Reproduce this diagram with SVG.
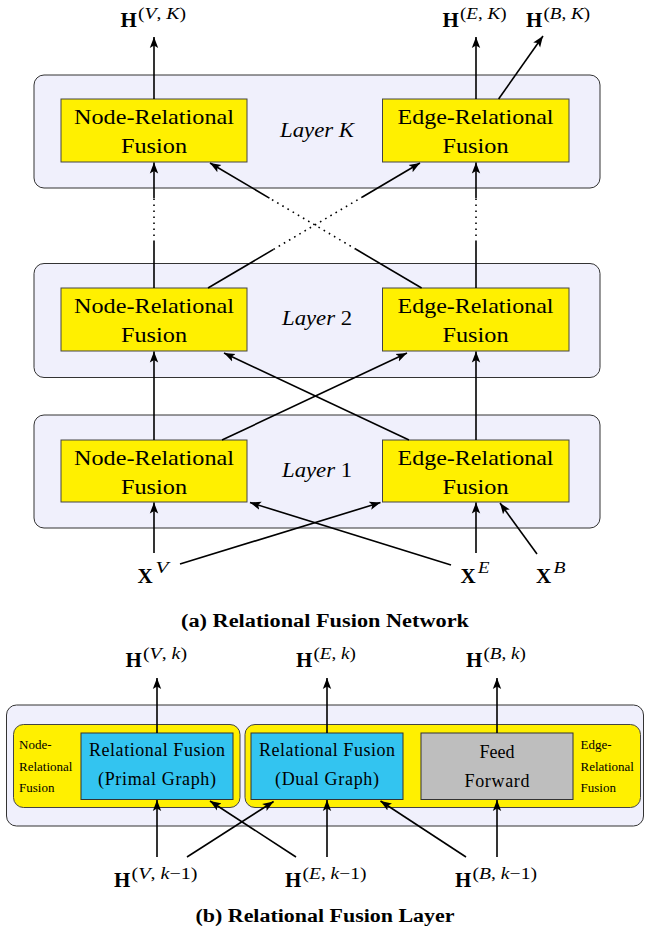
<svg xmlns="http://www.w3.org/2000/svg" width="645" height="935" viewBox="0 0 645 935">
<style>
.layer{fill:#F0F0FC;stroke:#333;stroke-width:1}
.yb{fill:#FFF000;stroke:#444;stroke-width:1}
.cb{fill:#33C4F0;stroke:#333;stroke-width:1}
.gb{fill:#BEBEBE;stroke:#333;stroke-width:1}
.t{font-family:"Liberation Serif",serif;fill:#000}
.n{font-size:21px;text-anchor:middle}
.lay{font-size:20px;text-anchor:middle;font-style:italic}
.bx{font-size:18px;text-anchor:middle}
.sm{font-size:13px}
.cap{font-size:18px;font-weight:bold;text-anchor:middle}
.H{font-size:21px;font-weight:bold}
.sup{font-size:16px}
.xs{font-size:17px}
.i{font-style:italic}
.e{stroke:#000;stroke-width:1.6;fill:none}
.d{stroke-dasharray:1.6 4.4}
.a{marker-end:url(#ah)}
</style>
<defs>
<marker id="ah" markerUnits="userSpaceOnUse" markerWidth="12" markerHeight="10" viewBox="0 0 12 10" refX="11" refY="5" orient="auto">
<path d="M0,0.8 L11,5 L0,9.2 L2.5,5 z" fill="#000"/>
</marker>
</defs>

<!-- Part (a) -->
<g id="layerK">
<rect class="layer" x="34" y="75" width="566" height="113" rx="10"/>
<text class="t lay" x="317" y="137" textLength="74" lengthAdjust="spacingAndGlyphs">Layer K</text>
</g>
<g id="layer2">
<rect class="layer" x="34" y="263.5" width="566" height="114" rx="10"/>
<text class="t lay" x="317" y="325" textLength="70" lengthAdjust="spacingAndGlyphs">Layer <tspan font-style="normal">2</tspan></text>
</g>
<g id="layer1">
<rect class="layer" x="34" y="415" width="566" height="113" rx="10"/>
<text class="t lay" x="317" y="476.5" textLength="70" lengthAdjust="spacingAndGlyphs">Layer <tspan font-style="normal">1</tspan></text>
</g>

<g id="nodeK">
<rect class="yb" x="61" y="99" width="186" height="63"/>
<text class="t n" x="154" y="124" textLength="160" lengthAdjust="spacingAndGlyphs">Node-Relational</text>
<text class="t n" x="154" y="153" textLength="66" lengthAdjust="spacingAndGlyphs">Fusion</text>
</g>
<g id="edgeK">
<rect class="yb" x="382.5" y="99" width="186.5" height="63"/>
<text class="t n" x="475.5" y="124" textLength="156" lengthAdjust="spacingAndGlyphs">Edge-Relational</text>
<text class="t n" x="475.5" y="153" textLength="66" lengthAdjust="spacingAndGlyphs">Fusion</text>
</g>
<g id="node2">
<rect class="yb" x="61" y="288" width="186" height="63"/>
<text class="t n" x="154" y="313" textLength="160" lengthAdjust="spacingAndGlyphs">Node-Relational</text>
<text class="t n" x="154" y="342" textLength="66" lengthAdjust="spacingAndGlyphs">Fusion</text>
</g>
<g id="edge2">
<rect class="yb" x="382.5" y="288" width="186.5" height="63"/>
<text class="t n" x="475.5" y="313" textLength="156" lengthAdjust="spacingAndGlyphs">Edge-Relational</text>
<text class="t n" x="475.5" y="342" textLength="66" lengthAdjust="spacingAndGlyphs">Fusion</text>
</g>
<g id="node1">
<rect class="yb" x="61" y="440" width="186" height="62"/>
<text class="t n" x="154" y="465" textLength="160" lengthAdjust="spacingAndGlyphs">Node-Relational</text>
<text class="t n" x="154" y="494" textLength="66" lengthAdjust="spacingAndGlyphs">Fusion</text>
</g>
<g id="edge1">
<rect class="yb" x="382.5" y="440" width="186.5" height="62"/>
<text class="t n" x="475.5" y="465" textLength="156" lengthAdjust="spacingAndGlyphs">Edge-Relational</text>
<text class="t n" x="475.5" y="494" textLength="66" lengthAdjust="spacingAndGlyphs">Fusion</text>
</g>

<g id="outHVK">
<text class="t H" x="120.5" y="27">H</text>
<text class="t sup" x="138" y="19" textLength="48" lengthAdjust="spacingAndGlyphs">(<tspan class="i">V</tspan>, <tspan class="i">K</tspan>)</text>
</g>
<g id="outHEK">
<text class="t H" x="442.5" y="27">H</text>
<text class="t sup" x="460" y="19" textLength="46.5" lengthAdjust="spacingAndGlyphs">(<tspan class="i">E</tspan>, <tspan class="i">K</tspan>)</text>
</g>
<g id="outHBK">
<text class="t H" x="526" y="27">H</text>
<text class="t sup" x="543.5" y="19" textLength="46.5" lengthAdjust="spacingAndGlyphs">(<tspan class="i">B</tspan>, <tspan class="i">K</tspan>)</text>
</g>
<g id="inXV">
<text class="t H" x="137.5" y="583">X</text>
<text class="t xs i" x="155.5" y="573" textLength="13" lengthAdjust="spacingAndGlyphs">V</text>
</g>
<g id="inXE">
<text class="t H" x="460.5" y="583">X</text>
<text class="t xs i" x="478" y="573" textLength="11.5" lengthAdjust="spacingAndGlyphs">E</text>
</g>
<g id="inXB">
<text class="t H" x="536" y="583">X</text>
<text class="t xs i" x="553.5" y="573" textLength="12" lengthAdjust="spacingAndGlyphs">B</text>
</g>

<text class="t cap" x="325" y="627" textLength="288" lengthAdjust="spacingAndGlyphs">(a) Relational Fusion Network</text>

<!-- Part (b) -->
<g id="layerk">
<rect class="layer" x="6.5" y="705" width="637" height="121" rx="10"/>
</g>
<g id="nodeRF">
<rect class="yb" x="13.5" y="724.5" width="226.5" height="83" rx="10"/>
<text class="t sm" x="19" y="749">Node-</text>
<text class="t sm" x="19" y="771">Relational</text>
<text class="t sm" x="19" y="791.5">Fusion</text>
</g>
<g id="edgeRF">
<rect class="yb" x="245" y="724.5" width="395.5" height="83" rx="10"/>
<text class="t sm" x="580.5" y="749">Edge-</text>
<text class="t sm" x="580.5" y="771">Relational</text>
<text class="t sm" x="580.5" y="791.5">Fusion</text>
</g>
<g id="primal">
<rect class="cb" x="81" y="733" width="152" height="66.5"/>
<text class="t bx" x="157" y="756" textLength="136" lengthAdjust="spacing">Relational Fusion</text>
<text class="t bx" x="157" y="785" textLength="118" lengthAdjust="spacing">(Primal Graph)</text>
</g>
<g id="dual">
<rect class="cb" x="251" y="733" width="152" height="66.5"/>
<text class="t bx" x="327" y="756" textLength="136" lengthAdjust="spacing">Relational Fusion</text>
<text class="t bx" x="327" y="785" textLength="104" lengthAdjust="spacing">(Dual Graph)</text>
</g>
<g id="ffn">
<rect class="gb" x="421" y="733" width="152" height="66.5"/>
<text class="t bx" x="497" y="757.5" fill="#222">Feed</text>
<text class="t bx" x="497" y="787" textLength="65" lengthAdjust="spacing" fill="#222">Forward</text>
</g>

<g id="outHVk">
<text class="t H" x="125.5" y="666.5">H</text>
<text class="t sup" x="143" y="658.5" textLength="44" lengthAdjust="spacingAndGlyphs">(<tspan class="i">V</tspan>, <tspan class="i">k</tspan>)</text>
</g>
<g id="outHEk">
<text class="t H" x="296" y="666.5">H</text>
<text class="t sup" x="313.5" y="658.5" textLength="42.5" lengthAdjust="spacingAndGlyphs">(<tspan class="i">E</tspan>, <tspan class="i">k</tspan>)</text>
</g>
<g id="outHBk">
<text class="t H" x="466" y="666.5">H</text>
<text class="t sup" x="483.5" y="658.5" textLength="42.5" lengthAdjust="spacingAndGlyphs">(<tspan class="i">B</tspan>, <tspan class="i">k</tspan>)</text>
</g>
<g id="inHVk1">
<text class="t H" x="114" y="886.5">H</text>
<text class="t sup" x="131.5" y="878.5" textLength="66" lengthAdjust="spacingAndGlyphs">(<tspan class="i">V</tspan>, <tspan class="i">k</tspan>−1)</text>
</g>
<g id="inHEk1">
<text class="t H" x="285" y="886.5">H</text>
<text class="t sup" x="302.5" y="878.5" textLength="64" lengthAdjust="spacingAndGlyphs">(<tspan class="i">E</tspan>, <tspan class="i">k</tspan>−1)</text>
</g>
<g id="inHBk1">
<text class="t H" x="455" y="886.5">H</text>
<text class="t sup" x="472.5" y="878.5" textLength="64.5" lengthAdjust="spacingAndGlyphs">(<tspan class="i">B</tspan>, <tspan class="i">k</tspan>−1)</text>
</g>

<text class="t cap" x="325" y="921.5" textLength="259" lengthAdjust="spacingAndGlyphs">(b) Relational Fusion Layer</text>

<g id="connectors">
<!-- part a outputs -->
<line class="e a" x1="154" y1="99" x2="154" y2="37"/>
<line class="e a" x1="476" y1="99" x2="476" y2="37"/>
<line class="e a" x1="498.6" y1="99" x2="543" y2="36"/>
<!-- layer 2 -> layer K -->
<line class="e" x1="154" y1="288" x2="154" y2="242"/>
<line class="e d" x1="154" y1="242" x2="154" y2="198"/>
<line class="e a" x1="154" y1="198" x2="154" y2="162.5"/>
<line class="e" x1="476" y1="288" x2="476" y2="242"/>
<line class="e d" x1="476" y1="242" x2="476" y2="198"/>
<line class="e a" x1="476" y1="198" x2="476" y2="162.5"/>
<line class="e" x1="208" y1="288" x2="273.5" y2="249.4"/>
<line class="e d" x1="273.5" y1="249.4" x2="362" y2="197.2"/>
<line class="e a" x1="362" y1="197.2" x2="420" y2="163"/>
<line class="e" x1="421.6" y1="288" x2="356" y2="249.3"/>
<line class="e d" x1="356" y1="249.3" x2="269.4" y2="198.1"/>
<line class="e a" x1="269.4" y1="198.1" x2="210" y2="163"/>
<!-- layer 1 -> layer 2 -->
<line class="e a" x1="154" y1="440" x2="154" y2="351.5"/>
<line class="e a" x1="476" y1="440" x2="476" y2="351.5"/>
<line class="e a" x1="222" y1="440" x2="407" y2="353"/>
<line class="e a" x1="409" y1="440" x2="224" y2="353"/>
<!-- inputs -> layer 1 -->
<line class="e a" x1="154" y1="553" x2="154" y2="502.5"/>
<line class="e a" x1="476" y1="553" x2="476" y2="502.5"/>
<line class="e a" x1="180" y1="564" x2="380.5" y2="502.5"/>
<line class="e a" x1="451" y1="565" x2="250" y2="502.5"/>
<line class="e a" x1="537" y1="554" x2="500" y2="503"/>
<!-- part b -->
<line class="e a" x1="157" y1="733" x2="157" y2="678"/>
<line class="e a" x1="327" y1="733" x2="327" y2="678"/>
<line class="e a" x1="497" y1="733" x2="497" y2="678"/>
<line class="e a" x1="157" y1="857" x2="157" y2="800"/>
<line class="e a" x1="327" y1="857" x2="327" y2="800"/>
<line class="e a" x1="497" y1="857" x2="497" y2="800"/>
<line class="e a" x1="187" y1="857" x2="273.6" y2="801.5"/>
<line class="e a" x1="296" y1="857" x2="210" y2="801"/>
<line class="e a" x1="466" y1="857" x2="380.5" y2="801"/>
</g>
</svg>
